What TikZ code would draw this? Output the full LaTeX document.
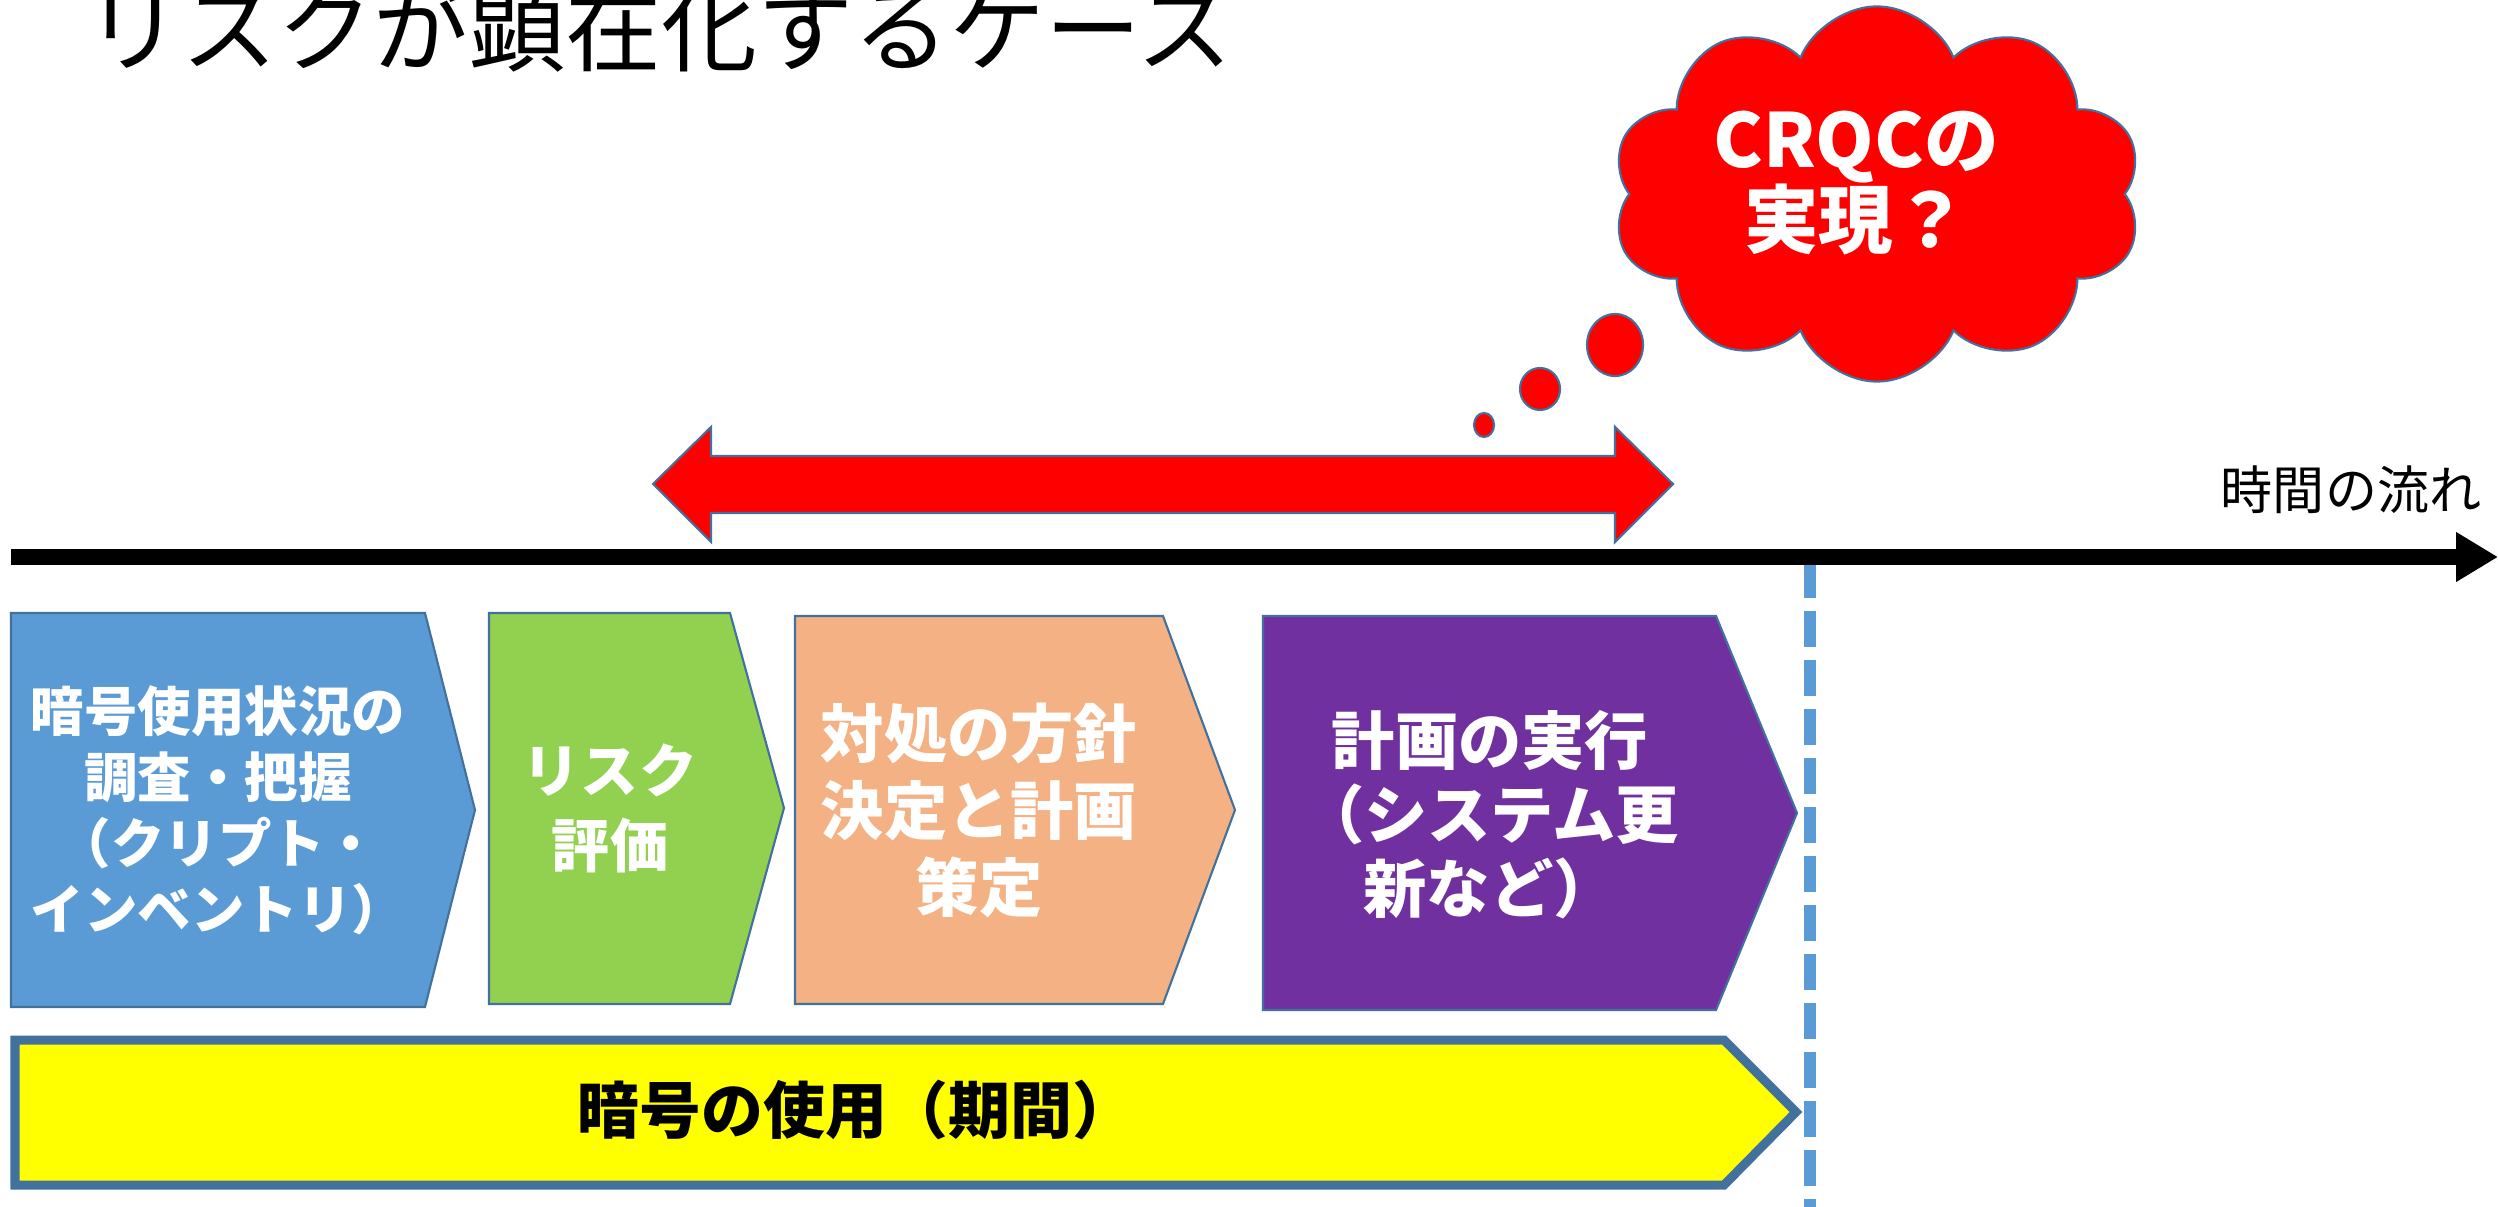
\documentclass[tikz,border=0pt]{standalone}
\usepackage{fontspec}
\setmainfont{Noto Sans CJK JP}
\usetikzlibrary{shapes.symbols,shapes.geometric,arrows.meta}
\definecolor{cblue}{HTML}{5B9BD5}
\definecolor{cgreen}{HTML}{92D050}
\definecolor{corange}{HTML}{F4B183}
\definecolor{cpurple}{HTML}{7030A0}
\definecolor{cyellow}{HTML}{FFFF00}
\definecolor{cred}{HTML}{FF0000}
\definecolor{edge}{HTML}{41719C}
\tikzset{
  stagebox/.style={draw=edge, line width=0.6pt, line join=miter},
  boxtext/.style={text=white, align=center, inner sep=0pt},
  bubble/.style={ellipse, fill=cred, draw=edge, line width=0.6pt, inner sep=0pt},
}
\begin{document}
\begin{tikzpicture}[x=0.01cm,y=-0.01cm]
\useasboundingbox (0,0) rectangle (2498,1207);

% title
\node[anchor=base west, inner sep=0pt, font=\fontsize{27.3}{30}\selectfont] (title) at (85,65) {リスクが顕在化するケース};

% red double arrow
\filldraw[fill=cred, draw=edge, line width=0.6pt] (653,484) -- (711,427) -- (711,456) -- (1615,456) -- (1615,427) -- (1673,484) -- (1615,542) -- (1615,513) -- (711,513) -- (711,542) -- cycle;

% dashed line
\coordinate (d0) at (1810,562);
\coordinate (d1) at (1810,1207);
\draw[cblue, line width=0.12cm, dash pattern=on 0.36cm off 0.13cm] (d0) -- (d1);

% timeline
\coordinate (tl0) at (11,557);
\coordinate (tl1) at (2498,557);
\draw[line width=0.16cm, -{Triangle[length=0.42cm,width=0.47cm]}] (tl0) -- (tl1);
\node[font=\fontsize{14.8}{17}\selectfont, inner sep=0pt] (tlabel) at (2351,490) {時間の流れ};

% stage boxes
\filldraw[stagebox, fill=cblue] (11,613) -- (425,613) -- (475,810) -- (425,1007) -- (11,1007) -- cycle;
\node[boxtext, font=\fontsize{15.2}{18.8}\selectfont\bfseries] (t1) at (218,810) {暗号使用状況の\\調査・把握\\（クリプト・\\インベントリ）};

\filldraw[stagebox, fill=cgreen] (489,613) -- (730,613) -- (784,808) -- (730,1004) -- (489,1004) -- cycle;
\node[boxtext, font=\fontsize{16.5}{21.3}\selectfont\bfseries] (t2) at (610,808) {リスク\\評価};

\filldraw[stagebox, fill=corange] (795,616) -- (1163,616) -- (1235,810) -- (1163,1004) -- (795,1004) -- cycle;
\node[boxtext, font=\fontsize{18}{21.9}\selectfont\bfseries] (t3) at (979,810) {対処の方針\\決定と計画\\策定};

\filldraw[stagebox, fill=cpurple] (1263,616) -- (1716,616) -- (1797,813) -- (1716,1010) -- (1263,1010) -- cycle;
\node[boxtext, font=\fontsize{18}{21}\selectfont\bfseries] (t4) at (1490,815) {計画の実行\\（システム更\\新など）};

% yellow period arrow
\filldraw[fill=cyellow, draw=edge, line width=0.09cm, line join=miter] (15,1040) -- (1724,1040) -- (1796,1112) -- (1724,1185) -- (15,1185) -- cycle;
\node[inner sep=0pt, font=\fontsize{17.6}{20}\selectfont\bfseries] (t5) at (856,1110) {暗号の使用（期間）};

% cloud
\node[cloud, cloud puffs=10, cloud puff arc=135, cloud ignores aspect, minimum width=5.3cm, minimum height=3.75cm, fill=cred, draw=edge, line width=0.6pt, inner sep=0pt] (cloud) at (1877,194) {};
\node[boxtext, font=\fontsize{21.2}{23}\selectfont\bfseries] (ctext) at (1856,183) {CRQCの\\実現？};

% thought bubbles
\node[bubble, minimum width=0.2cm, minimum height=0.24cm] (b1) at (1484,425) {};
\node[bubble, minimum width=0.4cm, minimum height=0.42cm] (b2) at (1540,389) {};
\node[bubble, minimum width=0.56cm, minimum height=0.62cm] (b3) at (1615,345) {};
\end{tikzpicture}
\end{document}
